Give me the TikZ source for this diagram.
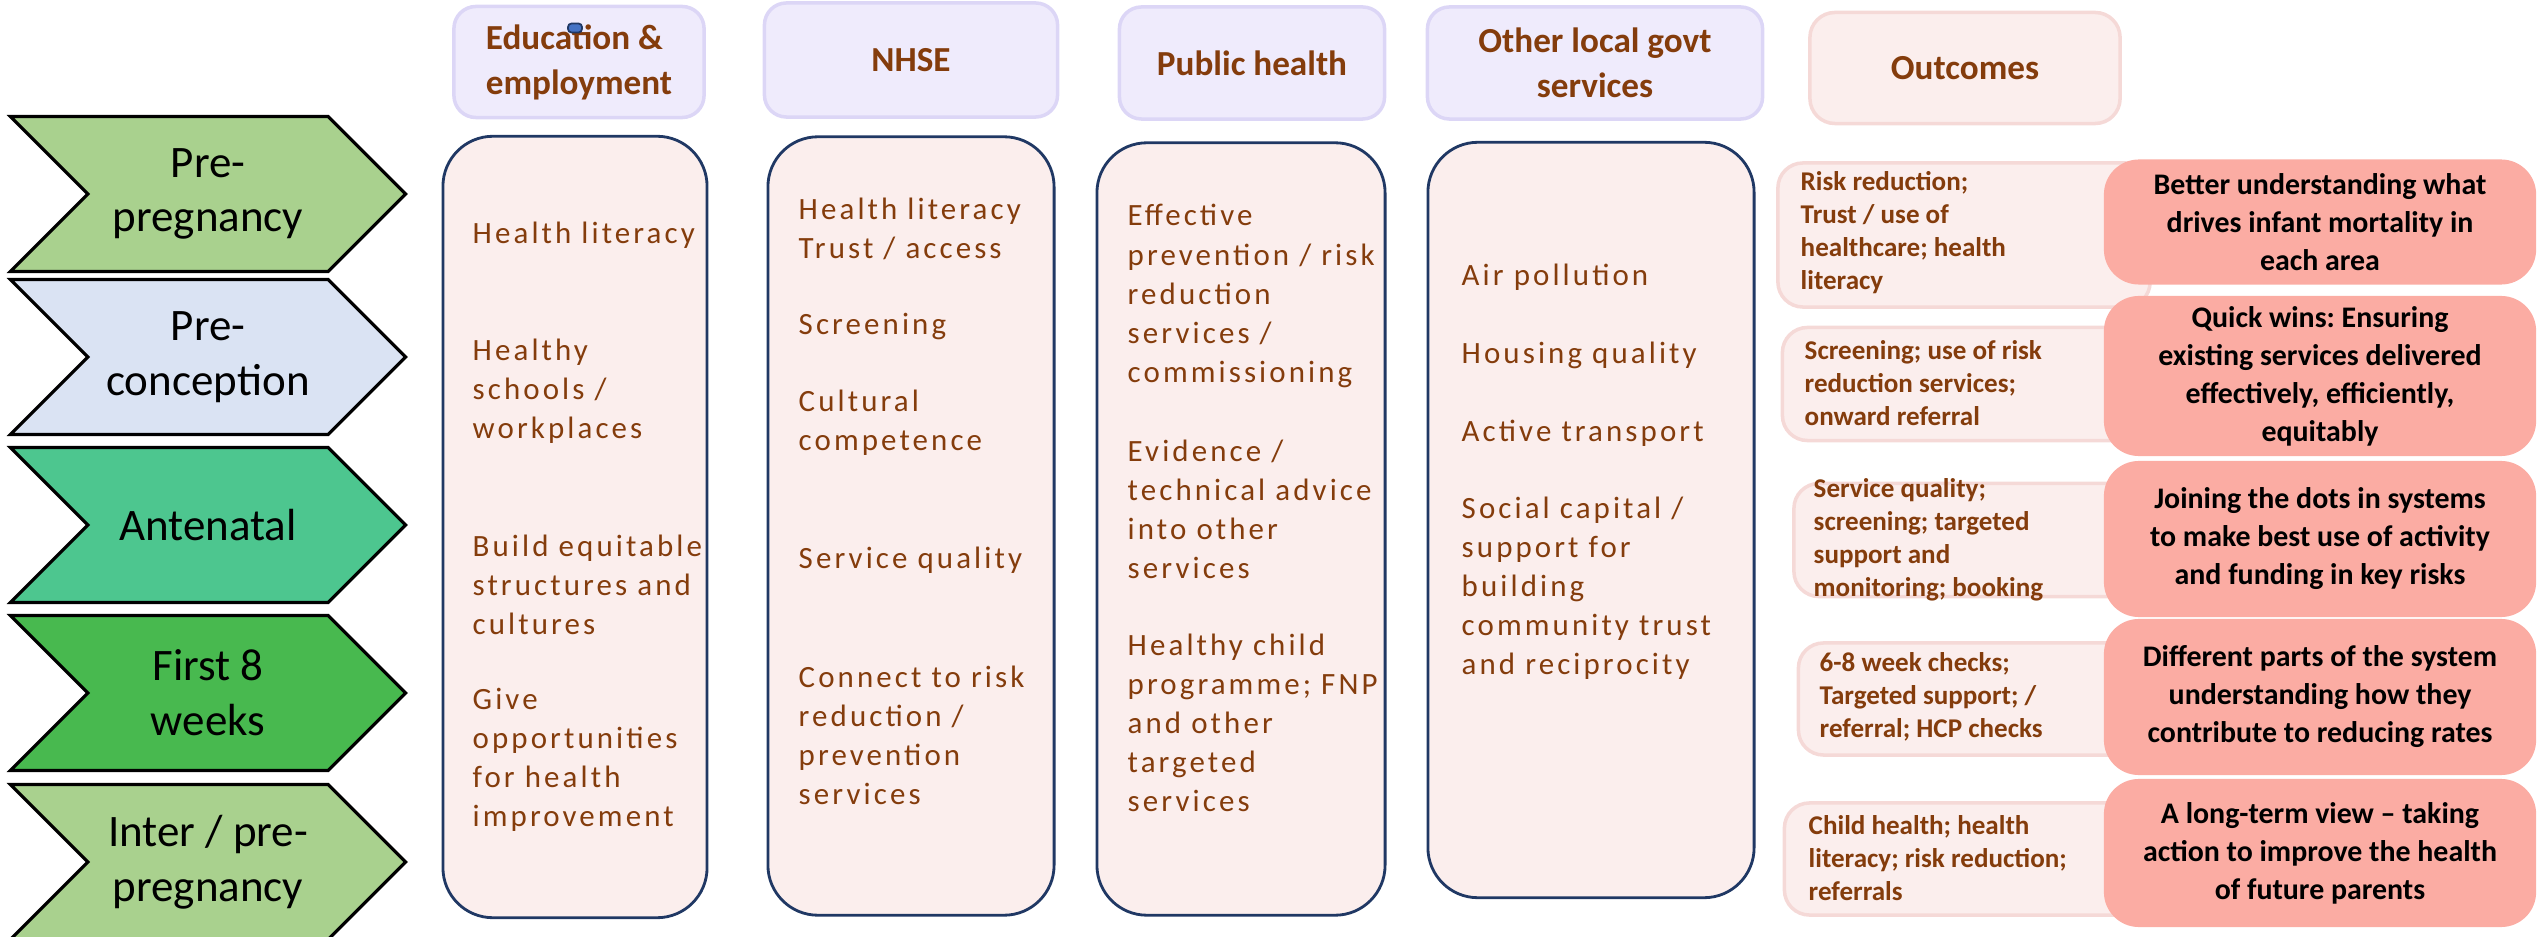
\documentclass[tikz,border=0pt]{standalone}
\usepackage{fontspec}
\setmainfont{Carlito}
\newfontfamily\spacedfont[LetterSpace=10]{Carlito}
\usetikzlibrary{shapes.symbols}
\frenchspacing

\definecolor{stageA}{HTML}{A9D18E}
\definecolor{stageB}{HTML}{DAE3F3}
\definecolor{stageC}{HTML}{4DC68F}
\definecolor{stageD}{HTML}{48B94F}
\definecolor{brownText}{HTML}{843C0C}
\definecolor{headFill}{HTML}{EFEBFC}
\definecolor{headLine}{HTML}{DCD6F6}
\definecolor{pinkFill}{HTML}{FBEEED}
\definecolor{pinkLine}{HTML}{F5D9D7}
\definecolor{navyLine}{HTML}{203864}
\definecolor{salmon}{HTML}{FBACA3}
\definecolor{markBlue}{HTML}{4472C4}

\begin{document}
\begin{tikzpicture}[x=0.01cm, y=-0.01cm,
	stage/.style={signal, signal from=west, signal to=east, signal pointer angle=90,
		draw=black, line width=0.9pt, minimum width=3.95cm, minimum height=1.55cm,
		inner sep=0pt, align=center, font=\fontsize{12.8}{15.6}\selectfont},
	headbox/.style={draw=headLine, fill=headFill, line width=1pt, rounded corners=0.22cm,
		inner sep=0pt, align=center, text=brownText, font=\bfseries\fontsize{10}{12.8}\selectfont},
	colbox/.style={draw=navyLine, fill=pinkFill, line width=0.8pt, rounded corners=0.5cm, inner sep=0pt},
	entry/.style={anchor=west, inner sep=0pt, align=left, text=brownText,
		font=\spacedfont\fontsize{8.8}{11.1}\selectfont},
	outbox/.style={draw=pinkLine, fill=pinkFill, line width=1pt, rounded corners=0.25cm, inner sep=0pt},
	outtext/.style={anchor=west, inner sep=0pt, align=left, text=brownText,
		font=\bfseries\fontsize{7.7}{9.4}\selectfont},
	aimbox/.style={fill=salmon, rounded corners=0.35cm, inner sep=0pt, minimum width=4.32cm,
		align=center, font=\bfseries\fontsize{8.5}{10.8}\selectfont}]

% fix page size
	\useasboundingbox (0,0) rectangle (2539,937);

% draw stages
	\node[stage, fill=stageA] (prePreg) at (208,194) {Pre-\\pregnancy};
	\node[stage, fill=stageB] (preConc) at (208,357) {Pre-\\conception};
	\node[stage, fill=stageC] (antenatal) at (208,525) {Antenatal};
	\node[stage, fill=stageD] (firstWeeks) at (208,693) {First 8\\weeks};
	\node[stage, fill=stageA] (interPreg) at (208,862) {Inter / pre-\\pregnancy};

% draw column headers
	\node[headbox, align=left, minimum width=2.50cm, minimum height=1.11cm] (hEdu) at (579,62) {Education \&\\employment};
	\node[fill=markBlue, draw=navyLine, line width=0.5pt, rounded corners=1pt, inner sep=0pt,
		minimum width=0.14cm, minimum height=0.09cm] (markEdu) at (575,28) {};
	\node[headbox, minimum width=2.93cm, minimum height=1.14cm] (hNhse) at (911,60) {NHSE};
	\node[headbox, minimum width=2.65cm, minimum height=1.12cm] (hPh) at (1252,63) {Public health};
	\node[headbox, minimum width=3.35cm, minimum height=1.12cm] (hGov) at (1595,63) {Other local govt\\services};
	\node[outbox, text=brownText, font=\bfseries\fontsize{10}{12.8}\selectfont,
		minimum width=3.10cm, minimum height=1.11cm] (hOut) at (1965,68) {Outcomes};

% draw column boxes
	\node[colbox, minimum width=2.64cm, minimum height=7.81cm] (cEdu) at (575,527) {};
	\node[colbox, minimum width=2.86cm, minimum height=7.78cm] (cNhse) at (911,526) {};
	\node[colbox, minimum width=2.88cm, minimum height=7.72cm] (cPh) at (1241,529) {};
	\node[colbox, minimum width=3.26cm, minimum height=7.55cm] (cGov) at (1591,520) {};

% education & employment
	\node[entry] (eduA) at (472,235) {Health literacy};
	\node[entry] (eduB) at (472,391) {Healthy\\schools /\\workplaces};
	\node[entry] (eduC) at (472,585) {Build equitable\\structures and\\cultures};
	\node[entry] (eduD) at (472,760) {Give\\opportunities\\for health\\improvement};

% nhse
	\node[entry] (nhseA) at (798,229) {Health literacy\\Trust / access};
	\node[entry] (nhseB) at (798,327) {Screening};
	\node[entry] (nhseC) at (798,423) {Cultural\\competence};
	\node[entry] (nhseD) at (798,560) {Service quality};
	\node[entry] (nhseE) at (798,735) {Connect to risk\\reduction /\\prevention\\services};

% public health
	\node[entry] (phA) at (1127,296) {Effective\\prevention / risk\\reduction\\services /\\commissioning};
	\node[entry] (phB) at (1127,509) {Evidence /\\technical advice\\into other\\services};
	\node[entry] (phC) at (1127,723) {Healthy child\\programme; FNP\\and other\\targeted\\services};

% other local govt
	\node[entry] (govA) at (1461,277) {Air pollution};
	\node[entry] (govB) at (1461,355) {Housing quality};
	\node[entry] (govC) at (1461,433) {Active transport};
	\node[entry] (govD) at (1461,588) {Social capital /\\support for\\building\\community trust\\and reciprocity};

% outcome boxes
	\node[outbox, minimum width=3.72cm, minimum height=1.44cm] (oA) at (1964,235) {};
	\node[outbox, minimum width=3.67cm, minimum height=1.13cm] (oB) at (1966,384) {};
	\node[outbox, minimum width=3.56cm, minimum height=1.13cm] (oC) at (1972,540) {};
	\node[outbox, minimum width=3.51cm, minimum height=1.12cm] (oD) at (1974,699) {};
	\node[outbox, minimum width=3.65cm, minimum height=1.12cm] (oE) at (1967,859) {};
	\node[outtext] (oTextA) at (1800,233) {Risk reduction;\\Trust / use of\\healthcare; health\\literacy};
	\node[outtext] (oTextB) at (1804,383) {Screening; use of risk\\reduction services;\\onward referral};
	\node[outtext] (oTextC) at (1813,540) {Service quality;\\screening; targeted\\support and\\monitoring; booking};
	\node[outtext] (oTextD) at (1819,697) {6-8 week checks;\\Targeted support; /\\referral; HCP checks};
	\node[outtext] (oTextE) at (1808,858) {Child health; health\\literacy; risk reduction;\\referrals};

% aims
	\node[aimbox, minimum height=1.25cm] (aimA) at (2320,222) {Better understanding what\\drives infant mortality in\\each area};
	\node[aimbox, minimum height=1.60cm] (aimB) at (2320,376) {Quick wins: Ensuring\\existing services delivered\\effectively, efficiently,\\equitably};
	\node[aimbox, minimum height=1.56cm] (aimC) at (2320,539) {Joining the dots in systems\\to make best use of activity\\and funding in key risks};
	\node[aimbox, minimum height=1.56cm] (aimD) at (2320,697) {Different parts of the system\\understanding how they\\contribute to reducing rates};
	\node[aimbox, minimum height=1.48cm] (aimE) at (2320,853) {A long-term view -- taking\\action to improve the health\\of future parents};
\end{tikzpicture}
\end{document}
